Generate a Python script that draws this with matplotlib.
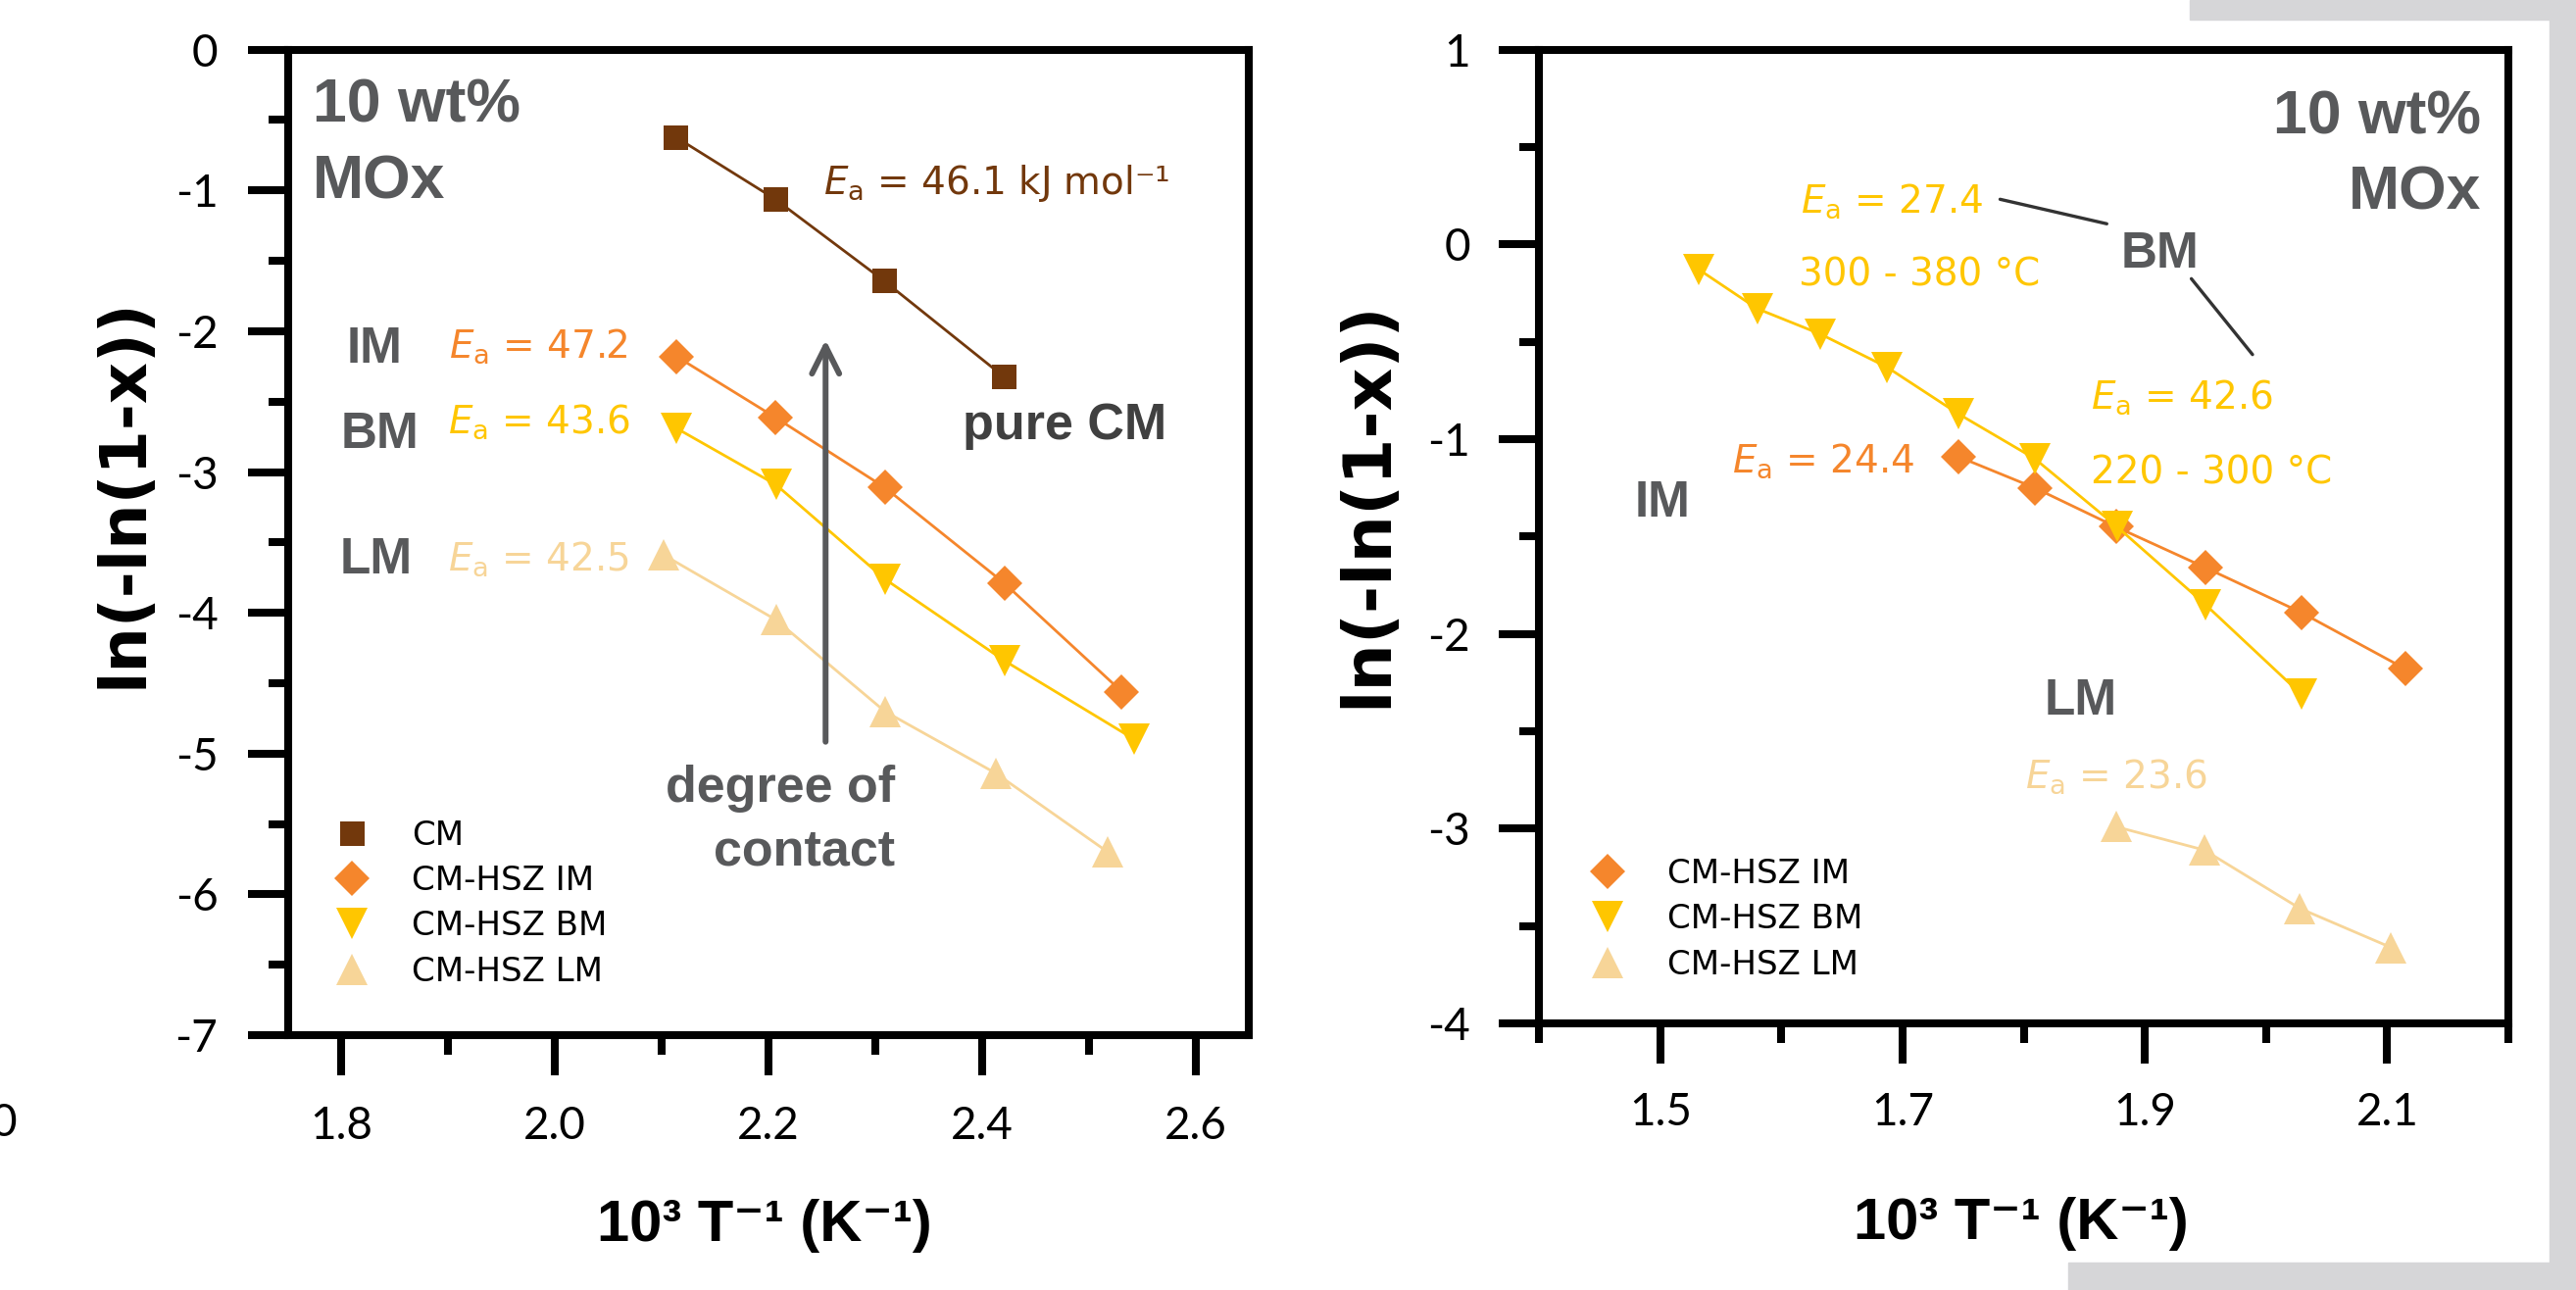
import matplotlib
matplotlib.use('Agg')
import matplotlib.pyplot as plt
from matplotlib.lines import Line2D
from matplotlib.patches import Rectangle

plt.rcParams['axes.unicode_minus'] = False
plt.rcParams['mathtext.fontset'] = 'dejavusans'

# colours
c_cm = '#72380c'
c_im = '#f5862c'
c_bm = '#ffc600'
c_lm = '#f7d598'
c_txt = '#58595b'

# left panel : CM and CM-HSZ
cm_x = [2.113, 2.206, 2.308, 2.420]
cm_y = [-0.62, -1.06, -1.64, -2.32]
im_x = [2.114, 2.206, 2.309, 2.421, 2.531]
im_y = [-2.18, -2.61, -3.11, -3.79, -4.56]
bm_x = [2.114, 2.207, 2.309, 2.421, 2.543]
bm_y = [-2.69, -3.09, -3.76, -4.34, -4.90]
lm_x = [2.102, 2.207, 2.309, 2.413, 2.518]
lm_y = [-3.59, -4.05, -4.70, -5.14, -5.70]

# right panel
im2_x = [1.746, 1.809, 1.876, 1.950, 2.029, 2.115]
im2_y = [-1.09, -1.25, -1.45, -1.66, -1.89, -2.18]
bm2_x = [1.532, 1.580, 1.632, 1.687, 1.746, 1.809, 1.877, 1.950, 2.029]
bm2_y = [-0.13, -0.33, -0.46, -0.63, -0.87, -1.10, -1.45, -1.85, -2.31]
lm2_x = [1.876, 1.949, 2.028, 2.103]
lm2_y = [-2.99, -3.11, -3.41, -3.61]

# ticks
left_xticks = [1.8, 2.0, 2.2, 2.4, 2.6]
left_xminor = [1.9, 2.1, 2.3, 2.5]
left_yticks = [0, -1, -2, -3, -4, -5, -6, -7]
left_yminor = [-0.5, -1.5, -2.5, -3.5, -4.5, -5.5, -6.5]
right_xticks = [1.5, 1.7, 1.9, 2.1]
right_xminor = [1.4, 1.6, 1.8, 2.0, 2.2]
right_yticks = [1, 0, -1, -2, -3, -4]
right_yminor = [0.5, -0.5, -1.5, -2.5, -3.5]

styles = {
    'CM': dict(marker='s', ms=18, color=c_cm),
    'CM-HSZ IM': dict(marker='D', ms=18, color=c_im),
    'CM-HSZ BM': dict(marker='v', ms=23, color=c_bm),
    'CM-HSZ LM': dict(marker='^', ms=23, color=c_lm),
}

TICKFONT = ['Lato', 'DejaVu Sans']
BOLDFONT = ['Liberation Sans', 'DejaVu Sans']
ANNFONT = 'DejaVu Sans'
XLABEL = '10³ T⁻¹ (K⁻¹)'
YLABEL = 'ln(-ln(1-x))'


def style_axes(ax, xlim, ylim, xt, xm, yt, ym, pad):
    ax.set_xlim(*xlim)
    ax.set_ylim(*ylim)
    ax.set_xticks(xt)
    ax.set_xticks(xm, minor=True)
    ax.set_yticks(yt)
    ax.set_yticks(ym, minor=True)
    ax.set_xticklabels([f'{t:.1f}' for t in xt], fontsize=33,
                       family=TICKFONT, color='black')
    ax.set_yticklabels([f'{t:d}' for t in yt], fontsize=33,
                       family=TICKFONT, color='black')
    for s in ax.spines.values():
        s.set_linewidth(5.8)
    ax.tick_params(which='both', direction='out', width=5.8,
                   top=False, right=False, pad=pad)
    ax.tick_params(which='major', length=29.5)
    ax.tick_params(which='minor', length=14.5)


def series(ax, x, y, name, lw=2.0):
    st = styles[name]
    ax.plot(x, y, color=st['color'], lw=lw, marker=st['marker'],
            ms=st['ms'], mew=0, label=name)


def legend(ax, names, anchor):
    handles = [Line2D([], [], ls='none', mew=0, label=n, **styles[n]) for n in names]
    ax.legend(handles=handles, loc='upper left', bbox_to_anchor=anchor,
              frameon=False, borderpad=0, borderaxespad=0, handlelength=1.5,
              handletextpad=1.05, labelspacing=0.39,
              prop=dict(family=ANNFONT, size=24.5))


def ea(ax, x, y, s, color, size=28):
    ax.text(x, y, r'$\mathit{E}_{\mathrm{a}}$ = ' + s, color=color,
            fontsize=size, family=ANNFONT, va='baseline')


def bold(ax, x, y, s, size=37, color=c_txt, ha='left'):
    ax.text(x, y, s, color=color, fontsize=size, family=BOLDFONT,
            fontweight='bold', ha=ha, va='baseline')


fig = plt.figure(figsize=(26.28, 13.16), dpi=100)

# grey frame on the right edge
for r in [(2234, 0, 394, 20), (2601, 0, 27, 1316), (2110, 1288, 518, 28)]:
    x0, y0, w, h = r
    fig.add_artist(Rectangle((x0 / 2628, 1 - (y0 + h) / 1316), w / 2628, h / 1316,
                             transform=fig.transFigure, color='#d6d6d8', zorder=0))

ax1 = fig.add_axes([0.11187, 0.19757, 0.37291, 0.76391])
ax2 = fig.add_axes([0.59753, 0.20669, 0.37622, 0.75479])

# ---------------- left panel ----------------
style_axes(ax1, (1.75, 2.65), (-7, 0), left_xticks, left_xminor,
           left_yticks, left_yminor, pad=22)
series(ax1, cm_x, cm_y, 'CM')
series(ax1, im_x, im_y, 'CM-HSZ IM')
series(ax1, bm_x, bm_y, 'CM-HSZ BM')
series(ax1, lm_x, lm_y, 'CM-HSZ LM')

bold(ax1, 1.773, -0.517, '10 wt%', size=45)
bold(ax1, 1.773, -1.054, 'MOx', size=45)
ea(ax1, 2.2514, -1.026, '46.1 kJ mol⁻¹', c_cm)
bold(ax1, 2.382, -2.767, 'pure CM', size=37.5, color='#404040')
bold(ax1, 1.805, -2.224, 'IM')
ea(ax1, 1.9006, -2.189, '47.2', c_im)
bold(ax1, 1.799, -2.827, 'BM')
ea(ax1, 1.8997, -2.723, '43.6', c_bm)
bold(ax1, 1.798, -3.721, 'LM')
ea(ax1, 1.8997, -3.698, '42.5', c_lm)
bold(ax1, 2.3184, -5.344, 'degree of', size=37.5, ha='right')
bold(ax1, 2.3184, -5.79, 'contact', size=37.5, ha='right')
ax1.annotate('', xy=(2.2535, -2.061), xytext=(2.2535, -4.916),
             arrowprops=dict(arrowstyle='->,head_length=1.0,head_width=0.5',
                             lw=4.3, color=c_txt, mutation_scale=20,
                             shrinkA=0, shrinkB=0))
legend(ax1, ['CM', 'CM-HSZ IM', 'CM-HSZ BM', 'CM-HSZ LM'], (0.0398, 0.219))

ax1.set_xlabel(XLABEL, fontsize=43, fontweight='bold', family=BOLDFONT,
               va='center')
ax1.xaxis.set_label_coords(0.496, -0.193)
ax1.set_ylabel(YLABEL, fontsize=47, fontweight='bold', family='DejaVu Sans',
               va='center')
ax1.yaxis.set_label_coords(-0.171, 0.55)

# ---------------- right panel ----------------
style_axes(ax2, (1.4, 2.2), (-4, 1), right_xticks, right_xminor,
           right_yticks, right_yminor, pad=21)
series(ax2, im2_x, im2_y, 'CM-HSZ IM')
series(ax2, bm2_x, bm2_y, 'CM-HSZ BM')
series(ax2, lm2_x, lm2_y, 'CM-HSZ LM')

bold(ax2, 2.1773, 0.567, '10 wt%', size=45, ha='right')
bold(ax2, 2.1773, 0.181, 'MOx', size=45, ha='right')
ea(ax2, 1.6158, 0.164, '27.4', c_bm)
ax2.text(1.6144, -0.213, '300 - 380 °C', color=c_bm, fontsize=28,
         family=ANNFONT, va='baseline')
bold(ax2, 1.880, -0.1206, 'BM')
ax2.annotate('', xy=(1.8685, 0.106), xytext=(1.7804, 0.2318),
             arrowprops=dict(arrowstyle='-', lw=2.4, color='#333333',
                             shrinkA=0, shrinkB=0))
ax2.annotate('', xy=(1.9888, -0.5655), xytext=(1.9383, -0.176),
             arrowprops=dict(arrowstyle='-', lw=2.4, color='#333333',
                             shrinkA=0, shrinkB=0))
ea(ax2, 1.8553, -0.842, '42.6', c_bm)
ax2.text(1.8553, -1.228, '220 - 300 °C', color=c_bm, fontsize=28,
         family=ANNFONT, va='baseline')
ea(ax2, 1.559, -1.1695, '24.4', c_im)
bold(ax2, 1.479, -1.396, 'IM')
bold(ax2, 1.817, -2.416, 'LM')
ea(ax2, 1.801, -2.788, '23.6', c_lm)
legend(ax2, ['CM-HSZ IM', 'CM-HSZ BM', 'CM-HSZ LM'], (0.0442, 0.170))

ax2.set_xlabel(XLABEL, fontsize=43, fontweight='bold', family=BOLDFONT,
               va='center')
ax2.xaxis.set_label_coords(0.497, -0.206)
ax2.set_ylabel(YLABEL, fontsize=49, fontweight='bold', family='DejaVu Sans',
               va='center')
ax2.yaxis.set_label_coords(-0.177, 0.533)

# cut-off tick label of a neighbouring panel at the far left
fig.text(17 / 2628, 1 - 1146 / 1316, '0', ha='right', va='center',
         fontsize=33, family=TICKFONT)

fig.savefig('out.png', dpi=100)
